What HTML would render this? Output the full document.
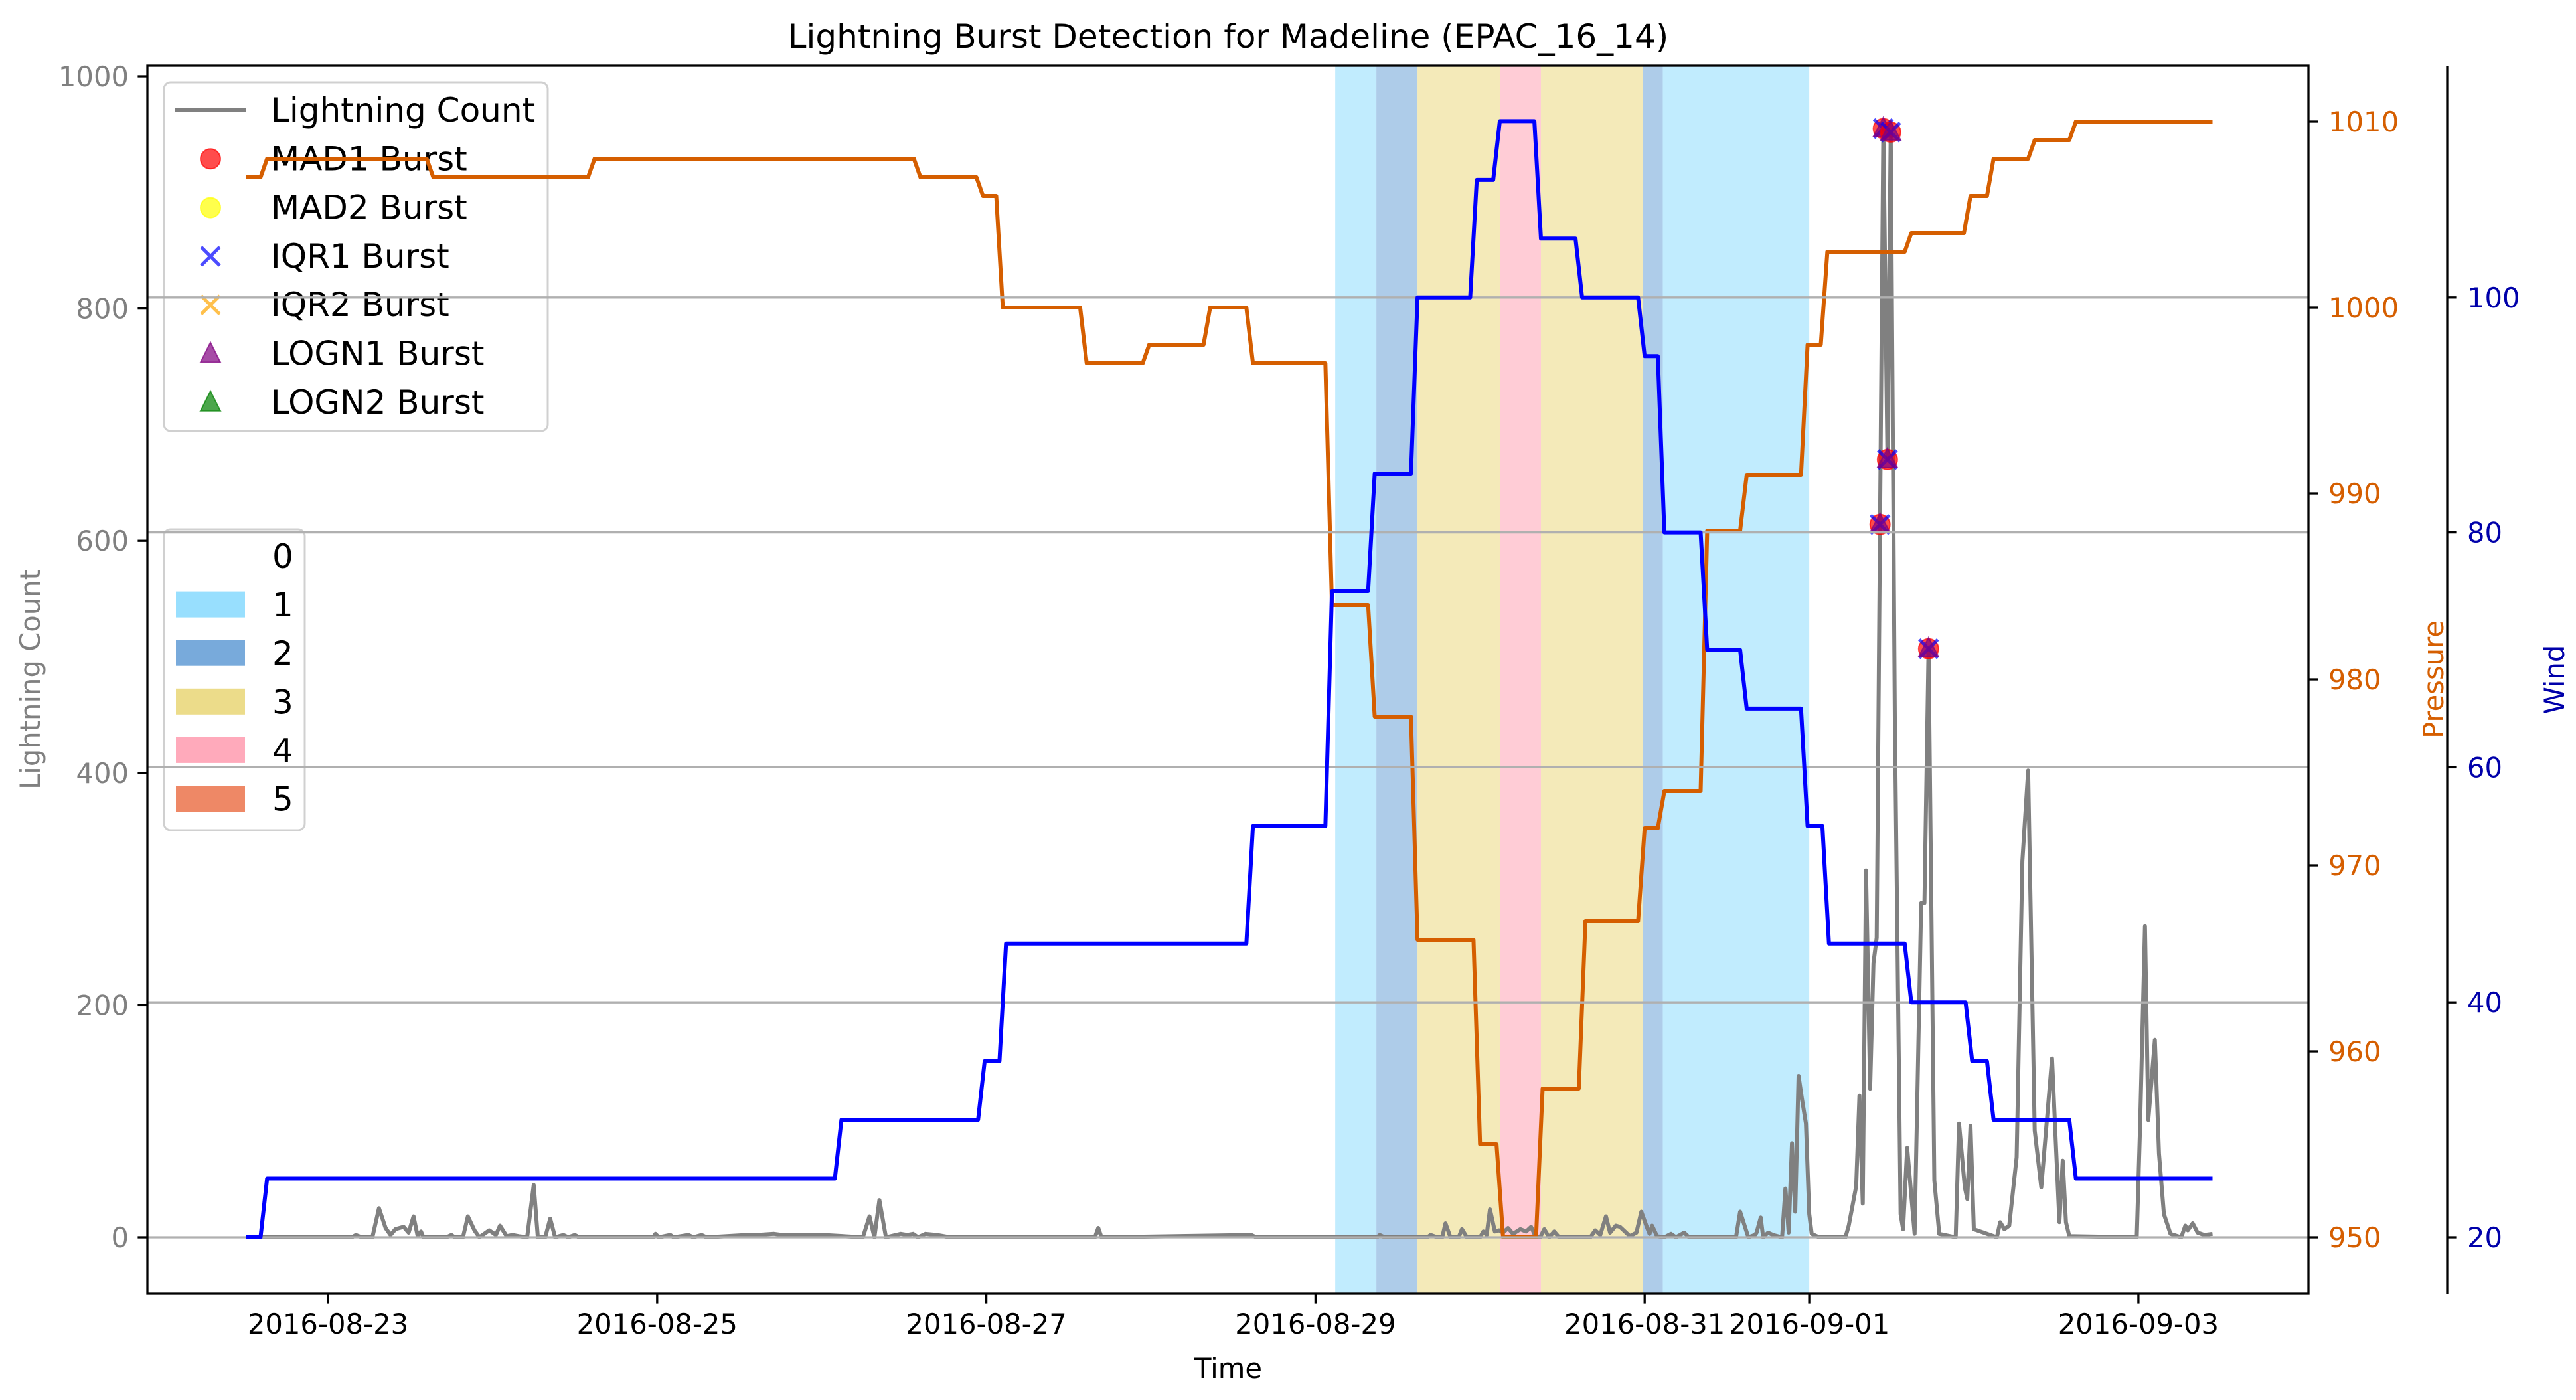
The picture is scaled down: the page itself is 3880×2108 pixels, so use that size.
<!DOCTYPE html>
<html><head><meta charset="utf-8"><style>
html,body{margin:0;padding:0;background:#fff;}
svg text{font-family:"DejaVu Sans","Liberation Sans",sans-serif;}
</style></head>
<body>
<svg id="chart" xmlns="http://www.w3.org/2000/svg" width="3880" height="2103" viewBox="0 0 3880 2103">
<rect x="0" y="0" width="3880" height="2103" fill="#fff"/>
<g id="bands"></g>
<g id="lightning"></g>
<g id="markers"></g>
<g id="legends"></g>
<g id="pressure"></g>
<g id="grid"></g>
<g id="wind"></g>
<g id="axes"></g>
<text x="1850" y="72" font-size="50" text-anchor="middle" fill="#000">Lightning Burst Detection for Madeline (EPAC_16_14)</text>
<text x="1850" y="2075" font-size="41.7" text-anchor="middle" fill="#000">Time</text>
<text transform="translate(60,1023) rotate(-90)" font-size="41.7" text-anchor="middle" fill="#808080">Lightning Count</text>
<text transform="translate(3680,1023) rotate(-90)" font-size="41.7" text-anchor="middle" fill="#d55e00">Pressure</text>
<text transform="translate(3862,1023) rotate(-90)" font-size="41.7" text-anchor="middle" fill="#0000aa">Wind</text>
</svg>
<script>
// ---- data (time in days since 2016-08-23 00:00) ----
const xTickDays = [0,2,4,6,8,9,11];
const xTickLabels = ["2016-08-23","2016-08-25","2016-08-27","2016-08-29","2016-08-31","2016-09-01","2016-09-03"];
const lightTicks = [0,200,400,600,800,1000];
const pressTicks = [950,960,970,980,990,1000,1010];
const windTicks = [20,40,60,80,100];

const pressTimes = [-0.5,-0.37,0.64,1.62,3.60,3.98,4.10,4.61,4.99,5.36,5.62,6.10,6.36,6.62,7.0,7.14,7.38,7.64,8.0,8.12,8.38,8.62,8.99,9.11,9.62,9.98,10.12,10.37,10.62];
const pressValues = [1007,1008,1007,1008,1007,1006,1000,997,998,1000,997,984,978,966,955,950,958,967,972,974,988,991,998,1003,1004,1006,1008,1009,1010];
const windTimes = [-0.5,-0.37,3.12,3.99,4.12,5.62,6.1,6.36,6.62,6.98,7.12,7.37,7.62,8.0,8.12,8.38,8.62,8.99,9.12,9.62,9.99,10.12,10.62];
const windValues = [20,25,30,35,45,55,75,85,100,110,115,105,100,95,80,70,65,55,45,40,35,30,25];
const seriesEnd = 11.45;

const lightTimes = [-0.5,0.145,0.17,0.205,0.27,0.31,0.35,0.38,0.41,0.46,0.49,0.52,0.545,0.565,0.58,0.72,0.75,0.77,0.82,0.85,0.89,0.92,0.98,1.02,1.045,1.085,1.12,1.16,1.21,1.25,1.275,1.32,1.35,1.38,1.43,1.46,1.50,1.525,1.975,1.99,2.01,2.08,2.10,2.19,2.22,2.27,2.30,2.545,2.60,2.71,2.76,2.98,3.01,3.25,3.29,3.32,3.35,3.39,3.48,3.52,3.555,3.585,3.63,3.70,3.78,4.66,4.68,4.70,5.61,5.64,6.375,6.39,6.42,6.68,6.70,6.74,6.77,6.79,6.82,6.87,6.89,6.92,7.00,7.02,7.04,7.06,7.09,7.115,7.14,7.17,7.20,7.245,7.28,7.31,7.34,7.365,7.39,7.42,7.45,7.48,7.67,7.70,7.73,7.765,7.79,7.825,7.85,7.88,7.91,7.95,7.98,8.01,8.03,8.045,8.075,8.12,8.16,8.19,8.24,8.27,8.555,8.58,8.63,8.67,8.68,8.705,8.72,8.75,8.78,8.835,8.855,8.875,8.895,8.915,8.935,8.955,8.98,9.00,9.015,9.06,9.22,9.24,9.285,9.305,9.325,9.345,9.37,9.39,9.41,9.43,9.45,9.475,9.495,9.52,9.555,9.57,9.595,9.64,9.68,9.70,9.725,9.76,9.79,9.89,9.91,9.945,9.96,9.98,10.0,10.14,10.16,10.185,10.215,10.26,10.295,10.33,10.37,10.41,10.475,10.52,10.54,10.56,10.58,10.99,11.01,11.04,11.06,11.10,11.125,11.155,11.195,11.26,11.285,11.30,11.33,11.36,11.40,11.45];
const lightValues = [0,0,2,0,0,25,8,2,7,9,4,18,1,5,0,0,2,0,0,18,6,0,6,2,10,1,2,1,0,45,0,0,16,0,2,0,2,0,0,3,0,2,0,2,0,2,0,2,2,3,2,2,2,0,18,0,32,0,3,2,3,0,3,2,0,0,8,0,2,0,0,2,0,0,2,0,0,12,0,0,7,0,0,5,2,24,5,6,4,8,3,7,5,9,0,0,7,0,5,0,0,6,2,18,4,10,9,5,1,4,22,10,3,10,1,0,3,0,4,0,0,22,0,2,4,17,0,4,2,0,42,4,81,22,139,120,98,20,3,0,0,10,44,122,29,316,128,236,258,614,955,670,952,448,20,7,77,3,288,288,507,49,3,0,98,43,33,96,7,0,13,7,10,69,324,402,92,43,154,13,66,13,1,0,95,268,101,170,72,20,3,0,10,6,12,4,2,3];

const burstTimes = [9.43,9.45,9.475,9.495,9.725];
const burstValues = [614,955,670,952,507];

const bandStarts = [6.12,6.37,6.62,7.12,7.37,7.99,8.11];
const bandEnds =   [6.37,6.62,7.12,7.37,7.99,8.11,9.0];
const bandCats =   [1,2,3,4,3,2,1];
const catLabels = ["0","1","2","3","4","5"];
const catColors = [null,"#98dffe","#78aadb","#ecdc8a","#ffaabb","#ee8866"];

// ---- scales ----
const L=222,R=3477,T=99,B=1948,WR=3686;
const X = d => 494 + 247.9*d;
const YL = v => 1863 - 1.748*v;
const YP = p => 1863 - 28.0*(p-950);
const YW = w => 1863 - 17.69*(w-20);
const NS="http://www.w3.org/2000/svg";
function mk(parent,tag,attrs){const e=document.createElementNS(NS,tag);for(const k in attrs)e.setAttribute(k,attrs[k]);parent.appendChild(e);return e;}

// bands
const gb=document.getElementById('bands');
for(let i=0;i<bandStarts.length;i++){
  const r=mk(gb,'rect',{x:X(bandStarts[i]),y:T,width:X(bandEnds[i])-X(bandStarts[i]),height:B-T,fill:catColors[bandCats[i]],'fill-opacity':0.6});
  
  
}

// lightning line
const gl=document.getElementById('lightning');
let lp=lightTimes.map((t,i)=>X(t).toFixed(1)+','+YL(lightValues[i]).toFixed(1)).join(' ');
const lline=mk(gl,'polyline',{points:lp,fill:'none',stroke:'#808080','stroke-width':6,'stroke-linejoin':'round'});



// markers
const gm=document.getElementById('markers');
for(let i=0;i<burstTimes.length;i++){
  const cx=X(burstTimes[i]),cy=YL(burstValues[i]);
  const c=mk(gm,'circle',{cx:cx,cy:cy,r:15,fill:'#ff0000','fill-opacity':0.7,stroke:'#ff0000','stroke-opacity':0.7,'stroke-width':2});
  
  
  const x1=mk(gm,'path',{d:`M${cx-14},${cy-14}L${cx+14},${cy+14}M${cx-14},${cy+14}L${cx+14},${cy-14}`,stroke:'#0000ff','stroke-opacity':0.7,'stroke-width':5});
  
  
  const tr=mk(gm,'path',{d:`M${cx},${cy-17}L${cx+15},${cy+12}L${cx-15},${cy+12}Z`,fill:'#800080','fill-opacity':0.7,stroke:'#800080','stroke-opacity':0.7,'stroke-width':2});
  
  
}

// step path builder
function stepPts(times,vals,ys){
  const pts=[];
  for(let i=0;i<times.length;i++){
    pts.push([X(times[i]),ys(vals[i])]);
    const nt=i+1<times.length?times[i+1]-0.04:seriesEnd;
    pts.push([X(nt),ys(vals[i])]);
  }
  return pts.map(p=>p[0].toFixed(1)+','+p[1].toFixed(1)).join(' ');
}

// legends
const gL=document.getElementById('legends');
const lb1=mk(gL,'rect',{x:247,y:124,width:578,height:525,rx:10,fill:'#fff','fill-opacity':0.8,stroke:'#d0d0d0','stroke-width':3});


const leg1=["Lightning Count","MAD1 Burst","MAD2 Burst","IQR1 Burst","IQR2 Burst","LOGN1 Burst","LOGN2 Burst"];
leg1.forEach((s,i)=>{
  const y=166+i*73.3;
  const t=mk(gL,'text',{x:408,y:y+17,'font-size':50,fill:'#000'});t.textContent=s;
  
  
  const cx=317;
  if(i===0){mk(gL,'line',{x1:263,y1:y,x2:370,y2:y,stroke:'#808080','stroke-width':6});}
  else if(i<=2){mk(gL,'circle',{cx:cx,cy:y,r:15,fill:i===1?'#ff0000':'#ffff00','fill-opacity':0.7,stroke:i===1?'#ff0000':'#ffff00','stroke-opacity':0.7,'stroke-width':2});}
  else if(i<=4){mk(gL,'path',{d:`M${cx-14},${y-14}L${cx+14},${y+14}M${cx-14},${y+14}L${cx+14},${y-14}`,stroke:i===3?'#0000ff':'#ffa500','stroke-opacity':0.7,'stroke-width':5});}
  else {const col=i===5?'#800080':'#008000';mk(gL,'path',{d:`M${cx},${y-17}L${cx+15},${y+13}L${cx-15},${y+13}Z`,fill:col,'fill-opacity':0.7,stroke:col,'stroke-opacity':0.7,'stroke-width':2});}
});
const lb2=mk(gL,'rect',{x:247,y:797,width:212,height:453,rx:10,fill:'#fff','fill-opacity':0.8,stroke:'#d0d0d0','stroke-width':3});


catLabels.forEach((s,i)=>{
  const y=837+i*73.1;
  if(catColors[i]){const p=mk(gL,'rect',{x:265,y:y-19.5,width:104,height:39,fill:catColors[i]});
    
    }
  const t=mk(gL,'text',{x:410,y:y+18,'font-size':50,fill:'#000'});t.textContent=s;
  
  
});

// pressure
const gp=document.getElementById('pressure');
const pl=mk(gp,'polyline',{points:stepPts(pressTimes,pressValues,YP),fill:'none',stroke:'#d55e00','stroke-width':6,'stroke-linejoin':'round'});



// grid
const gg=document.getElementById('grid');
windTicks.forEach(w=>{
  const g=mk(gg,'line',{x1:L,x2:R,y1:YW(w),y2:YW(w),stroke:'#b0b0b0','stroke-width':3.3});
  
  
});

// wind
const gw=document.getElementById('wind');
const wl=mk(gw,'polyline',{points:stepPts(windTimes,windValues,YW),fill:'none',stroke:'#0000ff','stroke-width':6,'stroke-linejoin':'round'});



// axes
const ga=document.getElementById('axes');
const frame=mk(ga,'rect',{x:L,y:T,width:R-L,height:B-T,fill:'none',stroke:'#000','stroke-width':3.3});


const ws=mk(ga,'line',{x1:WR,x2:WR,y1:T,y2:B,stroke:'#000','stroke-width':3.3});


xTickDays.forEach((d,i)=>{
  mk(ga,'line',{x1:X(d),x2:X(d),y1:B,y2:B+14.6,stroke:'#000','stroke-width':3.3});
  const t=mk(ga,'text',{x:X(d),y:2008,'font-size':41.7,'text-anchor':'middle',fill:'#000'});t.textContent=xTickLabels[i];
  
  
});
lightTicks.forEach(v=>{
  mk(ga,'line',{x1:L-14.6,x2:L,y1:YL(v),y2:YL(v),stroke:'#000','stroke-width':3.3});
  const t=mk(ga,'text',{x:L-28,y:YL(v)+15,'font-size':41.7,'text-anchor':'end',fill:'#808080'});t.textContent=v;
  
  
});
pressTicks.forEach(v=>{
  mk(ga,'line',{x1:R,x2:R+14.6,y1:YP(v),y2:YP(v),stroke:'#000','stroke-width':3.3});
  const t=mk(ga,'text',{x:R+30,y:YP(v)+15,'font-size':41.7,fill:'#d55e00'});t.textContent=v;
  
  
});
windTicks.forEach(v=>{
  mk(ga,'line',{x1:WR,x2:WR+14.6,y1:YW(v),y2:YW(v),stroke:'#000','stroke-width':3.3});
  const t=mk(ga,'text',{x:WR+30,y:YW(v)+15,'font-size':41.7,fill:'#0000aa'});t.textContent=v;
  
  
});
</script>
</body></html>
